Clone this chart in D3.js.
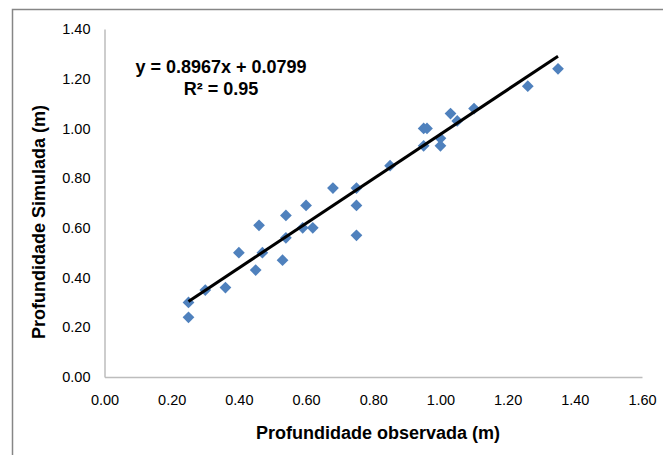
<!DOCTYPE html>
<html><head><meta charset="utf-8">
<script src="https://cdn.jsdelivr.net/npm/d3@7"></script>
<style>body{margin:0;background:#fff}svg{display:block;font-family:"Liberation Sans",Arial,sans-serif}</style>
</head><body><svg id="c" width="663" height="455"></svg>
<script>
const observed = [0.25,0.25,0.30,0.36,0.40,0.45,0.46,0.47,0.53,0.54,0.54,0.59,0.60,0.62,0.68,0.75,0.75,0.75,0.85,0.95,0.96,0.95,1.00,1.00,1.03,1.05,1.10,1.26,1.35];
const simulated = [0.30,0.24,0.35,0.36,0.50,0.43,0.61,0.50,0.47,0.65,0.56,0.60,0.69,0.60,0.76,0.76,0.69,0.57,0.85,1.00,1.00,0.93,0.96,0.93,1.06,1.03,1.08,1.17,1.24];
const xTicks = [0,0.2,0.4,0.6,0.8,1.0,1.2,1.4,1.6];
const yTicks = [0,0.2,0.4,0.6,0.8,1.0,1.2,1.4];
const slope = 0.8967, intercept = 0.0799;
const equationText = "y = 0.8967x + 0.0799";
const r2Text = "R² = 0.95";
const xTitle = "Profundidade observada (m)";
const yTitle = "Profundidade Simulada (m)";

const svg = d3.select("#c");
// outer frame
svg.append("rect").attr("x",12.5).attr("y",9.5).attr("width",680).attr("height",480)
  .attr("fill","none").attr("stroke","#868686").attr("stroke-width",1.5);

const x = d3.scaleLinear().domain([0,1.6]).range([104.5,642]);
const y = d3.scaleLinear().domain([0,1.4]).range([377,29]);

// axes
const xAxis = svg.append("g").attr("transform","translate(0,377)")
  .call(d3.axisBottom(x).tickValues(xTicks).tickSize(0).tickPadding(18).tickFormat(d3.format(".2f")));
const yAxis = svg.append("g").attr("transform","translate(104.5,0)")
  .call(d3.axisLeft(y).tickValues(yTicks).tickSize(0).tickPadding(14).tickFormat(d3.format(".2f")));
[xAxis,yAxis].forEach(a=>{
  a.select(".domain").attr("stroke","#bdbdbd").attr("stroke-width",1.5);
  a.selectAll("text").attr("font-size",14.5).attr("fill","#000").attr("font-family","Liberation Sans, Arial, sans-serif");
});

// points
const data = observed.map((o,i)=>({o, s: simulated[i]}));
const sym = d3.symbol().type(d3.symbolDiamond2).size(88);
svg.append("g").selectAll("path").data(data).join("path")
  .attr("d", sym)
  .attr("transform", d=>`translate(${x(d.o)},${y(d.s)})`)
  .attr("fill","#4f81bd");

// trendline
const xmin = d3.min(observed), xmax = d3.max(observed);
svg.append("line")
  .attr("x1",x(xmin)).attr("y1",y(slope*xmin+intercept))
  .attr("x2",x(xmax)).attr("y2",y(slope*xmax+intercept))
  .attr("stroke","#000").attr("stroke-width",3);

// equation
svg.append("text").attr("x",221).attr("y",73).attr("text-anchor","middle")
  .attr("font-size",18).attr("font-weight","bold").text(equationText);
svg.append("text").attr("x",221).attr("y",95).attr("text-anchor","middle")
  .attr("font-size",18).attr("font-weight","bold").text(r2Text);

// axis titles
svg.append("text").attr("x",378).attr("y",439).attr("text-anchor","middle")
  .attr("font-size",18).attr("font-weight","bold").text(xTitle);
svg.append("text").attr("transform","translate(45,222) rotate(-90)").attr("text-anchor","middle")
  .attr("font-size",18).attr("font-weight","bold").text(yTitle);
</script></body></html>
